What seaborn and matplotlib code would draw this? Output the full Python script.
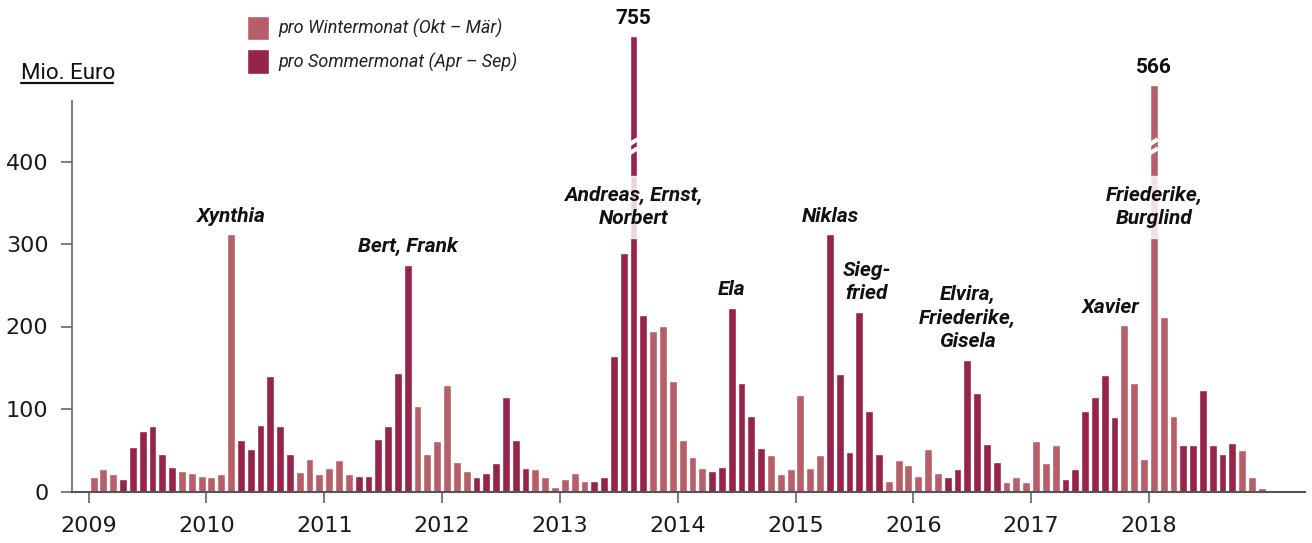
import numpy as np
import pandas as pd
import matplotlib
matplotlib.use("Agg")
import matplotlib.pyplot as plt
from matplotlib.lines import Line2D
import seaborn as sns

# Sturmschäden je Monat in Mio. Euro, Jan 2009 - Dez 2018
years = list(range(2009, 2019))
v2009 = [18, 27, 21, 15, 54, 73, 80, 46, 30, 25, 22, 19]
v2010 = [18, 21, 312, 62, 51, 81, 140, 80, 45, 24, 40, 21]
v2011 = [29, 38, 21, 19, 19, 64, 79, 144, 275, 104, 46, 61]
v2012 = [129, 36, 25, 17, 22, 35, 114, 62, 29, 27, 17, 6]
v2013 = [15, 22, 13, 13, 17, 164, 289, 755, 214, 194, 201, 134]
v2014 = [63, 42, 28, 25, 30, 223, 131, 91, 53, 44, 21, 27]
v2015 = [117, 28, 44, 312, 143, 48, 218, 98, 45, 13, 38, 32]
v2016 = [19, 51, 23, 17, 27, 160, 119, 58, 36, 11, 18, 11]
v2017 = [61, 35, 56, 15, 27, 98, 114, 141, 90, 202, 131, 40]
v2018 = [566, 212, 92, 56, 56, 123, 56, 46, 59, 50, 18, 4]
values = v2009 + v2010 + v2011 + v2012 + v2013 + v2014 + v2015 + v2016 + v2017 + v2018

winter_label = "pro Wintermonat (Okt – Mär)"
summer_label = "pro Sommermonat (Apr – Sep)"

storm_months = ["2010-03", "2011-09", "2013-08", "2014-06", "2015-04",
                "2015-07", "2016-06", "2017-10", "2018-01"]
storm_names = ["Xynthia", "Bert, Frank", "Andreas, Ernst,\nNorbert", "Ela", "Niklas",
               "Sieg-\nfried", "Elvira,\nFriederike,\nGisela", "Xavier", "Friederike,\nBurglind"]

# styling
WINTER = "#b65f69"
SUMMER = "#95234a"
NARROW = ["Roboto", "DejaVu Sans"]
label_dx = [0, 0, 0, 0, 0, 0.75, 0, -1.4, 0]
broken_shown = [552, 493]   # gezeichnete Höhe der gekappten Balken
Y_TOP = 560

sns.set_theme(style="ticks")
plt.rcParams["font.family"] = ["DejaVu Sans"]

fig = plt.figure(figsize=(13.12, 5.43), dpi=100)
ax = fig.add_axes([72 / 1312, 51.5 / 543, (1305 - 72) / 1312, Y_TOP * 0.825 / 543])

df = pd.DataFrame({"month": pd.date_range("2009-01-01", periods=len(values), freq="MS"),
                   "value": values})
df["pos"] = np.arange(len(df))
df["season"] = np.where(df["month"].dt.month.between(4, 9), summer_label, winter_label)
df["shown"] = df["value"].astype(float)
broken = df.index[df["value"] > 480]
df.loc[broken, "shown"] = broken_shown

sns.barplot(data=df, x="pos", y="shown", hue="season",
            hue_order=[winter_label, summer_label],
            palette={winter_label: WINTER, summer_label: SUMMER},
            dodge=False, width=0.8, saturation=1, ax=ax)

# gekappte Balken: Bruchstriche, blasser Bereich hinter dem Namen, Wert oben
for i in broken:
    ax.bar(i, 75, bottom=307, width=0.8, color="white", alpha=0.82, zorder=3)
    for yb in (413, 424):
        ax.plot([i - 0.4, i + 0.4], [yb - 3, yb + 3], color="white", lw=3,
                solid_capstyle="butt", zorder=4)
    ax.text(i, df.loc[i, "shown"] + 10, f"{df.loc[i, 'value']}", ha="center", va="bottom",
            fontsize=15, fontweight="bold", color="#111111", family=NARROW)

# Sturmnamen
for m, name, dx in zip(storm_months, storm_names, label_dx):
    i = df.index[df["month"] == pd.Timestamp(m)][0]
    v = df.loc[i, "value"]
    if v > 480:
        y, va = 345, "center"
    else:
        y, va = v + 10, "bottom"
    ax.text(i + dx, y, name, ha="center", va=va, fontsize=15, fontweight="bold",
            style="italic", family=NARROW, color="#111111", linespacing=1.3, zorder=5)

ax.set_ylim(0, Y_TOP)
ax.set_xlim(-2.2, 123.4)
ax.set_yticks([0, 100, 200, 300, 400])
ax.set_xticks(np.arange(0, 120, 12) - 0.5)
ax.set_xticklabels(years)
ax.set_xlabel("")
ax.set_ylabel("")
sns.despine(ax=ax)
ax.spines["left"].set_bounds(0, 473)
ax.spines["left"].set_color("#666666")
ax.spines["bottom"].set_color("#555555")
ax.spines["left"].set_linewidth(1.2)
ax.spines["bottom"].set_linewidth(1.5)
ax.tick_params(axis="both", length=8, width=1.2, color="#666666",
               labelsize=16, labelcolor="#1a1a1a")
ax.tick_params(axis="y", pad=9)
ax.tick_params(axis="x", pad=10)

handles, labels = ax.get_legend_handles_labels()
ax.legend(handles, labels, loc="upper left", bbox_to_anchor=(247 / 1312, 1 - 16 / 543),
          bbox_transform=fig.transFigure, frameon=False,
          prop={"family": NARROW, "style": "italic", "size": 13},
          handlelength=1.2, handleheight=1.7, handletextpad=0.55,
          labelspacing=0.5, borderpad=0, borderaxespad=0, labelcolor="#222222")

fig.text(21 / 1312, 1 - 79 / 543, "Mio. Euro", fontsize=16, family=NARROW,
         color="#111111", va="baseline")
fig.add_artist(Line2D([21 / 1312, 113 / 1312], [1 - 82.5 / 543] * 2,
                      color="#111111", lw=1.6, transform=fig.transFigure))

fig.savefig("out.png", dpi=100)
